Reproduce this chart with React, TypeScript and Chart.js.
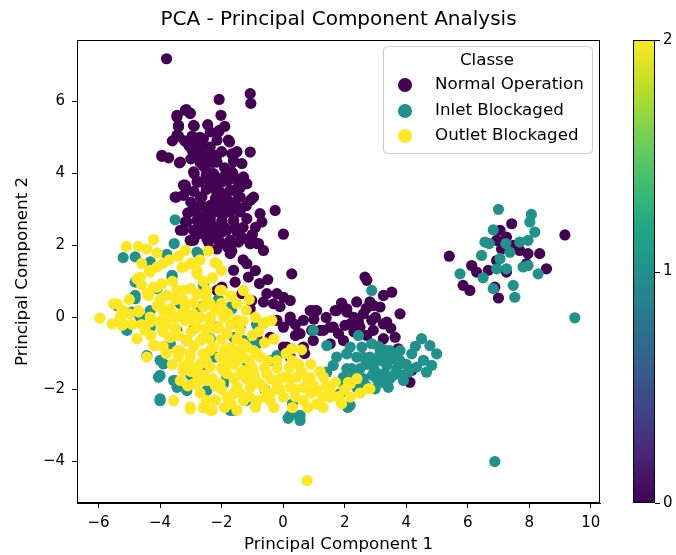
import React, { useEffect, useRef } from "react";
import { Chart, registerables } from "chart.js";

Chart.register(...registerables);

const chartTitle = "PCA - Principal Component Analysis";
const classNames = ["Normal Operation", "Inlet Blockaged", "Outlet Blockaged"];
const classColors = ["#440154", "#21918c", "#fde725"];
const xTicks = [-6, -4, -2, 0, 2, 4, 6, 8, 10];
const yTicks = [-4, -2, 0, 2, 4, 6];
const colorbarTicks = ["0", "1", "2"];

const normalPoints: number[][] = [
  [-3.79, 7.18], [-2.08, 6.05], [-1.07, 6.21], [-1.05, 5.94], [-2.02, 5.61], [-3.15, 5.77], [-3.45, 5.56], [-3.02, 5.67],
  [-3.4, 5.29], [-3.4, 5.03], [-2.89, 5.31], [-2.96, 5.03], [-2.37, 5.15], [-2.08, 5.19], [-2.59, 4.96], [-2.15, 4.92],
  [-1.74, 4.87], [-3.07, 4.78], [-2.69, 4.69], [-2.37, 4.73], [-3.94, 4.47], [-3.72, 4.43], [-2.86, 4.5], [-2.48, 4.45],
  [-2.15, 4.5], [-1.67, 4.54], [-1.07, 4.59], [-3.37, 4.29], [-1.61, 4.32], [-1.34, 4.27], [-2.37, 3.99], [-2.89, 3.99],
  [-1.94, 3.9], [-1.63, 3.99], [-1.29, 3.9], [-2.72, 3.76], [-1.18, 3.71], [-3.18, 3.67], [-2.15, 3.67], [-1.61, 3.53],
  [-3.24, 3.39], [-3.47, 3.34], [-2.64, 3.34], [-2.15, 3.43], [-1.83, 3.29], [-1.45, 3.34], [-1.02, 3.29], [-2.8, 3.06],
  [-2.37, 3.11], [-1.94, 3.16], [-1.5, 3.06], [-1.07, 3.25], [-0.26, 2.97], [-2.86, 2.93], [-2.48, 2.88], [-2.1, 2.93],
  [-1.72, 2.93], [-1.4, 2.93], [-0.75, 2.88], [-3.18, 2.65], [-2.8, 2.69], [-2.37, 2.65], [-1.99, 2.69], [-1.61, 2.69],
  [-1.18, 2.74], [-0.69, 2.65], [-3.34, 2.42], [-2.91, 2.42], [-2.43, 2.42], [-1.99, 2.37], [-1.5, 2.37], [0.01, 2.31],
  [-3.02, 2.14], [-2.48, 2.19], [-2.1, 2.14], [-1.72, 2.14], [-1.07, 2.05], [-0.85, 2.05], [-0.64, 1.86], [-2.15, 1.9],
  [-1.67, 1.84], [0.28, 1.21], [2.66, 1.12],
  [-2.6, 4.2], [-2.3, 4.3], [-1.9, 4.15], [-2.5, 3.55], [-2.0, 3.45], [-2.6, 2.6], [-1.3, 2.5], [-2.7, 5.0],
  [-1.9, 5.3], [-3.2, 4.9], [-2.0, 3.75], [-1.4, 3.6], [-2.9, 3.5],
  [-3.18, 5.75], [-3.45, 5.61], [-3.02, 5.66], [-3.4, 5.33], [-2.91, 5.33], [-3.45, 5.06], [-2.1, 5.15], [-1.78, 4.92],
  [-2.8, 4.78], [-2.96, 4.64], [-3.94, 4.5], [-3.34, 4.31], [-2.69, 4.54], [-2.26, 4.5], [-2.59, 4.31], [-2.15, 4.31],
  [-1.61, 4.36], [-2.91, 4.04], [-2.48, 4.04], [-2.26, 3.99], [-1.67, 4.04], [-1.29, 3.85], [-3.24, 3.67], [-2.8, 3.76],
  [-2.21, 3.57], [-1.72, 3.53], [-3.51, 3.34], [-3.13, 3.53], [-2.69, 3.34], [-1.4, 3.34], [-0.96, 3.34], [-2.91, 3.06],
  [-2.53, 3.06], [-2.15, 3.11], [-1.72, 3.02], [-1.4, 2.97], [-3.13, 2.65], [-2.69, 2.79], [-2.37, 2.74], [-1.99, 2.65],
  [-1.61, 2.69], [-3.24, 2.42], [-2.69, 2.42], [-2.26, 2.32], [-1.83, 2.42], [-1.45, 2.37], [-2.91, 2.14], [-2.43, 2.09],
  [-2.05, 2.09], [-1.67, 2.05], [-1.45, 2.09], [-1.07, 2.05], [-0.8, 2.05], [-1.72, 1.77],
  [-3.0, 4.4], [-2.7, 4.3], [-2.4, 3.8], [-2.1, 3.8], [-1.8, 3.8], [-1.5, 3.8], [-3.0, 3.2], [-2.7, 3.1],
  [-2.2, 3.3], [-1.6, 3.2], [-1.2, 3.1], [-3.1, 2.9], [-2.3, 2.9], [-1.9, 2.9], [-1.55, 2.5], [-1.9, 2.5],
  [-2.8, 2.3], [-2.2, 2.5], [-1.3, 2.2], [-0.9, 2.5], [-1.8, 1.95], [-2.6, 4.7], [-2.9, 4.9], [-3.6, 4.9],
  [-2.45, 5.35], [-1.5, 4.6], [-2.0, 4.6], [-2.5, 3.95], [-1.0, 2.3], [-1.3, 1.6], [-0.9, 1.3], [-0.5, 1.05],
  [-1.61, 1.31], [-1.13, 1.12], [-0.77, 0.94], [-1.56, 0.98], [-0.53, 0.66], [-0.2, 0.66], [-1.02, 0.47], [-0.64, 0.43],
  [-0.31, 0.38], [0.23, 0.01], [0.88, 0.19], [1.09, 0.19], [1.74, 0.19], [2.07, 0.24], [2.39, 0.43], [2.72, 1.03],
  [3.26, 0.61], [2.93, 0.33], [2.61, 0.1], [-0.2, -0.08], [0.01, -0.27], [0.66, -0.08], [0.55, -0.45], [0.93, -0.36],
  [1.31, -0.36], [1.63, -0.27], [2.18, -0.18], [2.5, -0.27], [2.93, -0.36], [3.26, -0.18], [-0.85, -0.55], [-0.42, -0.55],
  [0.12, -0.82], [0.66, -0.82], [0.98, -0.64], [1.53, -0.73], [1.96, -0.64], [0.23, -1.1], [-1.18, 1.49], [-1.99, 0.84],
  [-2.15, 0.75], [-0.85, -0.18], [0.01, 0.56], [0.23, 0.47], [0.98, 0.19], [1.69, 0.19], [2.07, 0.15], [2.82, 0.43],
  [3.15, 0.29], [3.53, 0.7], [3.8, 0.1], [3.37, -0.13], [2.88, -0.08], [2.45, -0.13], [2.01, -0.22], [1.53, -0.27],
  [1.2, -0.36], [0.23, -0.08], [3.64, -0.55], [3.26, -0.59], [2.72, -0.5], [3.74, -0.87], [4.18, -1.47], [4.12, -1.8],
  [0.01, -0.82], [-1.34, 0.66], [-1.07, 0.24], [1.4, 0.0], [1.9, 0.4], [2.3, 0.0], [3.0, 0.0], [3.5, -0.3],
  [-0.1, 0.3], [0.4, -0.5], [0.7, -1.0], [0.4, -0.2], [1.0, -0.05], [1.8, -0.45], [2.3, -0.4], [2.7, 0.25],
  [5.4, 1.7], [7.43, 2.6], [7.05, 2.42], [6.94, 2.14], [7.26, 2.23], [9.16, 2.29], [8.34, 1.77], [8.56, 1.35],
  [6.13, 1.44], [6.29, 1.26], [5.85, 0.89], [6.07, 0.75], [6.88, 0.84], [7.0, 0.54], [7.69, 1.86], [7.96, 1.77],
  [7.26, 1.26], [6.67, 1.31], [6.94, 1.58], [7.91, 1.49], [7.1, 1.9], [7.5, 2.0],
];

const inletPoints: number[][] = [
  [-3.51, 2.71], [-3.54, 2.05], [-2.8, 1.81], [-5.2, 1.66], [-4.81, 1.68], [-3.78, 1.75], [-4.32, 1.54], [-2.75, 1.77],
  [-4.75, 1.03], [-3.61, 1.12], [-2.59, 0.89], [-4.81, 0.61], [-5.4, 0.33], [-3.34, 0.38], [-1.67, 0.24], [-4.64, 0.01],
  [-5.13, -0.27], [-4.32, -0.27], [-1.4, -0.27], [-0.85, -0.22], [-3.67, -0.73], [-2.37, -0.59], [-4.43, -1.06], [-3.89, -1.29],
  [-4.0, -1.61], [-0.42, -1.19], [-0.2, -1.06], [-3.56, -1.75], [-1.83, -1.66], [-1.18, -1.38], [-3.45, -1.94], [-2.48, -2.03],
  [-4.0, -2.31], [-1.72, -2.58], [0.23, -2.72], [0.55, -2.72], [0.16, -2.8], [0.55, -2.86], [2.1, -2.5],
  [-2.9, -0.3], [-2.2, -1.1], [-1.0, -0.8], [-3.0, -1.6], [-2.6, -1.5], [-0.6, -2.0], [-1.2, -2.3], [0.3, -2.4],
  [-4.1, 0.8], [-2.1, 0.5],
  [-3.61, 1.17], [-4.81, 0.98], [-4.81, 0.52], [-4.91, 0.15], [-5.08, -0.36], [-4.32, 0.19], [-4.0, -1.19], [-4.05, -1.66],
  [-4.0, -2.26], [-3.51, -1.75], [-3.13, -2.03], [-3.45, -0.36], [-3.13, -0.64], [-2.69, 0.29], [-2.15, -0.27], [-1.72, 0.29],
  [-1.61, -0.55], [-1.29, -0.64], [-0.85, -0.73], [-1.94, -1.84], [-1.61, -2.58],
  [0.98, -0.36], [1.42, -1.52], [1.74, -1.1], [2.07, -1.01], [2.23, -1.42], [1.96, -1.84], [2.18, -2.44], [2.88, 0.75],
  [1.42, -0.78], [2.18, -0.82], [2.56, -0.82], [2.88, -0.73], [2.39, -1.1], [2.82, -1.1], [3.15, -1.01], [3.47, -0.92],
  [3.8, -0.92], [4.18, -1.01], [4.5, -0.59], [4.77, -0.78], [4.99, -1.01], [4.83, -1.33], [4.56, -1.19], [4.34, -1.38],
  [4.66, -1.52], [2.07, -1.42], [2.5, -1.42], [2.93, -1.38], [3.37, -1.33], [3.69, -1.42], [4.07, -1.52], [2.61, -1.7],
  [3.04, -1.7], [3.47, -1.7], [3.91, -1.75], [2.39, -1.94], [2.99, -1.98], [3.42, -1.94], [1.96, -1.66], [1.85, -2.12],
  [1.63, -1.33], [2.45, -0.5], [3.2, -1.2], [3.6, -1.15], [3.0, -1.5], [3.3, -1.55], [2.7, -1.3],
  [3.0, -1.2], [3.4, -1.1], [3.8, -1.2], [3.2, -1.8], [3.6, -1.6], [2.9, -1.6], [3.7, -1.0], [4.0, -1.3],
  [2.6, -1.1], [2.3, -1.6], [3.1, -0.8], [3.9, -1.6], [4.3, -0.8], [2.7, -1.9], [3.3, -0.9],
  [7.0, 3.0], [8.07, 2.86], [8.02, 2.65], [8.18, 2.37], [6.83, 2.43], [6.56, 2.09], [6.7, 2.05], [7.24, 2.05],
  [7.69, 2.09], [7.96, 2.14], [6.45, 1.72], [7.37, 1.81], [7.05, 1.63], [6.94, 1.35], [7.26, 1.35], [7.8, 1.4],
  [7.96, 1.44], [6.5, 1.1], [5.75, 1.21], [6.83, 0.8], [7.48, 0.89], [7.53, 0.56], [8.29, 1.21], [9.48, -0.01],
  [6.88, -4.0],
];

const outletPoints: number[][] = [
  [-5.1, 1.97], [-4.7, 1.97], [-4.21, 2.16], [-3.18, 1.86], [-2.43, 1.84], [-4.43, 1.9], [-4.1, 1.79], [-2.21, 1.52],
  [-3.29, 1.38], [-2.8, 1.31], [-4.34, 1.31],
  [-5.96, -0.02], [-5.51, 0.38], [-5.24, 0.19], [-5.56, -0.18], [-5.19, -0.18], [-4.75, -0.59], [-4.7, 0.19], [-4.75, 1.07],
  [-4.32, 1.26], [-4.43, 0.66], [-4.21, 0.84], [-3.94, 0.94], [-4.1, 0.33], [-4.32, 0.01], [-4.48, -0.36], [-4.21, -0.78],
  [-4.43, -1.1], [-3.78, 0.61], [-3.67, 0.24], [-3.78, -0.18], [-3.67, -0.55], [-3.45, -0.92], [-3.24, 1.4], [-2.8, 1.26],
  [-3.24, 0.75], [-2.8, 0.66], [-3.18, 0.38], [-2.91, 0.1], [-3.18, -0.08], [-2.8, -0.27], [-2.37, 0.38], [-2.37, 0.01],
  [-2.48, 0.75], [-1.99, 0.75], [-2.15, 1.49], [-1.94, 0.19], [-2.1, -0.27], [-1.83, -0.45], [-1.5, -0.08], [-1.29, 0.75],
  [-0.58, -0.13], [-0.37, -0.08], [0.28, -0.87], [-3.13, -0.64], [-2.69, -0.64], [-2.26, -0.82], [-1.72, -0.82], [-1.29, -0.73],
  [-0.96, -0.92], [-0.75, -1.1], [-3.02, -1.01], [-2.59, -1.01], [-2.05, -1.1], [-1.5, -1.19], [-3.24, -1.38], [-2.8, -1.38],
  [-2.37, -1.38], [-1.94, -1.47], [-1.4, -1.56], [-0.96, -1.56], [-0.53, -1.56], [0.01, -1.66], [0.44, -1.66], [0.88, -1.66],
  [1.31, -1.66], [-3.34, -1.75], [-2.91, -1.84], [-2.48, -1.75], [-2.05, -1.84], [-1.5, -1.94], [-1.07, -1.94], [-0.64, -1.94],
  [-0.2, -1.94], [0.23, -1.94], [0.66, -1.94], [1.09, -2.03], [1.53, -2.03], [2.18, -1.84], [2.82, -1.98], [-3.56, -2.31],
  [-3.02, -2.54], [-2.37, -2.58], [-1.83, -2.21], [-1.29, -2.31], [-0.85, -2.31], [-0.42, -2.31], [0.01, -2.21], [0.66, -2.31],
  [1.09, -2.4], [1.53, -2.21], [2.18, -2.21], [-1.5, -2.58], [2.12, -1.8], [2.77, -1.98], [0.78, -4.53],
  [-3.5, 0.0], [-3.0, -0.4], [-2.5, -0.3], [-2.0, -0.6], [-1.6, -1.0], [-1.1, -1.2], [-0.6, -0.7], [-0.2, -1.4],
  [0.5, -1.3], [1.0, -1.9], [-3.9, -0.4], [-4.0, 0.5], [-5.0, 0.1], [-1.2, -1.7], [-0.3, -2.5], [0.3, -2.5],
  [-2.2, -2.3], [-2.7, -2.1],
  [-5.4, 0.38], [-5.19, 0.19], [-5.24, -0.22], [-4.7, 0.15], [-4.64, 1.12], [-4.37, 0.61], [-4.1, 0.84], [-4.0, 0.43],
  [-4.32, -0.13], [-3.94, -0.31], [-4.16, -0.78], [-3.67, -0.55], [-3.78, 0.1], [-3.45, 0.75], [-3.24, 0.47], [-3.02, -0.08],
  [-3.34, -0.92], [-3.02, -1.1], [-3.24, -1.47], [-2.8, 1.21], [-2.8, 0.66], [-2.59, 0.29], [-2.37, -0.08], [-2.59, -0.55],
  [-2.37, -0.92], [-2.69, -1.29], [-2.8, -1.84], [-3.02, -2.49], [-2.31, -2.58], [-2.05, 0.75], [-1.94, 0.01], [-1.83, -0.45],
  [-1.72, -1.1], [-1.83, -1.56], [-1.61, -2.12], [-1.29, -1.47], [-1.18, -0.82], [-1.4, -0.36], [-1.5, 0.38], [-0.85, -1.01],
  [-0.75, -1.84], [-0.64, -0.18],
  [0.2, -1.4], [0.6, -1.5], [1.2, -1.5], [1.7, -1.8], [2.4, -1.7], [1.9, -2.4], [1.3, -2.5], [0.9, -2.1],
  [0.4, -2.0], [-0.1, -1.7], [-0.4, -2.1], [-0.9, -2.5], [-1.7, -2.4], [-2.0, -2.0], [-2.5, -2.3], [-2.6, -1.6],
  [-3.0, -1.5], [-3.1, -1.9], [-3.6, -1.3], [-3.8, -1.0], [-3.5, -0.3], [-3.3, 0.1], [-2.9, 0.4], [-2.6, 1.0],
  [-3.6, 1.0], [-3.9, 1.5], [-4.6, 1.5], [-3.7, 1.6], [-2.3, 1.1], [-2.0, 1.3], [-1.7, 0.6], [-1.2, 0.2],
  [-0.9, 0.0], [-1.0, -0.5], [-0.3, -0.6], [0.1, -1.0], [0.6, -0.9], [-1.5, -0.6], [-2.0, -1.4], [-2.5, -1.2],
  [-1.6, -1.3], [-0.5, -1.2], [0.9, -1.3],
  [-4.6, -0.2], [-4.0, -0.1], [-3.4, -0.5], [-3.9, 0.2], [-3.2, 0.2], [-2.7, 0.0], [-2.2, 0.2], [-1.7, -0.2],
  [-2.9, -0.8], [-2.4, -0.6], [-1.9, -0.9], [-3.1, -1.3], [-2.3, -1.7], [-1.8, -1.3], [-1.4, -0.9], [-1.0, -1.4],
  [-0.6, -1.4], [-0.2, -1.2], [0.3, -1.2], [-0.1, -2.0], [-0.6, -2.2], [-1.1, -2.2], [-1.4, -2.1], [-1.9, -2.5],
  [-2.6, -2.5], [0.4, -2.2], [0.8, -2.5], [1.3, -2.2], [1.8, -2.2], [1.4, -1.9], [0.8, -1.7], [0.2, -1.7],
  [-0.4, -1.7], [-0.9, -1.7], [-1.6, -1.7], [-2.2, -1.9], [-2.8, -1.6], [-3.4, -1.1], [-3.9, -0.8], [-4.3, -0.5],
  [-3.5, 0.5], [-3.0, 0.8], [-2.5, 0.5], [-2.0, 0.4], [-1.8, 0.1], [-1.3, -0.1], [-2.3, -0.3], [-2.7, 1.6],
  [-3.4, 1.7], [-3.0, 1.5], [-4.1, 1.4], [-4.6, 0.9], [-5.0, 0.5], [-5.3, 0.0], [-4.9, -0.2], [-1.1, 0.5],
  [-0.8, -0.4], [-1.3, -1.1], [2.0, -2.0], [2.5, -2.1],
];

const viridisStops = ["#440154", "#482475", "#414487", "#355f8d", "#2a788e", "#21918c", "#22a884", "#44bf70", "#7ad151", "#bddf26", "#fde725"];

const FONT = "'DejaVu Sans', sans-serif";

const fmt = (v: number) => (v < 0 ? "\u2212" + Math.abs(v) : String(v));

const decorPlugin = {
  id: "decor",
  afterDraw(chart: any) {
    const { ctx, chartArea } = chart;
    const { left, right, top, bottom } = chartArea;
    ctx.save();
    ctx.strokeStyle = "#000";
    ctx.lineWidth = 1;
    ctx.strokeRect(left + 0.5, top + 0.5, right - left - 1, bottom - top - 1);

    ctx.fillStyle = "#000";
    ctx.font = "20px " + FONT;
    ctx.textAlign = "center";
    ctx.textBaseline = "middle";
    ctx.fillText(chartTitle, (left + right) / 2, 20);

    const lx = 383, ly = 46, lw = 209, lh = 107;
    ctx.beginPath();
    (ctx as any).roundRect(lx + 0.5, ly + 0.5, lw, lh, 4);
    ctx.fillStyle = "rgba(255,255,255,0.8)";
    ctx.fill();
    ctx.strokeStyle = "#cccccc";
    ctx.stroke();
    ctx.fillStyle = "#000";
    ctx.font = "16.7px " + FONT;
    ctx.textBaseline = "middle";
    ctx.textAlign = "center";
    ctx.fillText("Classe", 487, 61);
    ctx.textAlign = "left";
    const rows = [85, 111, 136];
    classNames.forEach((name, i) => {
      ctx.beginPath();
      ctx.arc(405, rows[i], 7, 0, Math.PI * 2);
      ctx.fillStyle = classColors[i];
      ctx.fill();
      ctx.fillStyle = "#000";
      ctx.fillText(name, 435, rows[i]);
    });

    const cx = 633, cw = 22, cy = top, ch = bottom - top;
    const grad = ctx.createLinearGradient(0, cy + ch, 0, cy);
    viridisStops.forEach((c, i) => grad.addColorStop(i / (viridisStops.length - 1), c));
    ctx.fillStyle = grad;
    ctx.fillRect(cx, cy, cw, ch);
    ctx.strokeStyle = "#000";
    ctx.strokeRect(cx + 0.5, cy + 0.5, cw - 1, ch - 1);
    ctx.font = "15px " + FONT;
    ctx.fillStyle = "#000";
    ctx.textAlign = "left";
    colorbarTicks.forEach((t, i) => {
      const y = cy + ch - (i / (colorbarTicks.length - 1)) * ch;
      ctx.beginPath();
      ctx.moveTo(cx + cw, Math.round(y) + 0.5);
      ctx.lineTo(cx + cw + 5, Math.round(y) + 0.5);
      ctx.stroke();
      ctx.fillText(t, cx + cw + 8, y);
    });
    ctx.restore();
  },
};

export default function App() {
  const ref = useRef<HTMLCanvasElement | null>(null);
  useEffect(() => {
    document.body.style.margin = "0";
    const toData = (pts: number[][]) => pts.map(([x, y]) => ({ x, y }));
    const sets = [normalPoints, inletPoints, outletPoints];
    const chart = new Chart(ref.current as HTMLCanvasElement, {
      type: "scatter",
      data: {
        datasets: sets.map((pts, i) => ({
          label: classNames[i],
          data: toData(pts),
          backgroundColor: classColors[i],
          borderWidth: 0,
          pointRadius: 5.6,
          pointHoverRadius: 5.6,
          order: 2 - i,
        })),
      },
      options: {
        animation: false,
        responsive: true,
        maintainAspectRatio: false,
        events: [],
        layout: { padding: { left: 0, right: 76, top: 40, bottom: 0 } },
        plugins: {
          legend: { display: false },
          tooltip: { enabled: false },
          title: { display: false },
        },
        scales: {
          x: {
            type: "linear",
            min: -6.7,
            max: 10.3,
            afterBuildTicks: (s: any) => { s.ticks = xTicks.map((v) => ({ value: v })); },
            afterFit: (s: any) => { s.height = 52; },
            ticks: { callback: (v: any) => fmt(Number(v)), color: "#000", font: { family: FONT, size: 15 }, padding: 6, maxRotation: 0 },
            grid: { drawOnChartArea: false, drawTicks: true, tickLength: 5, color: "#000" },
            border: { display: true, color: "#000" },
            title: { display: true, text: "Principal Component 1", color: "#000", font: { family: FONT, size: 16.7 }, padding: { top: 2, bottom: 0 } },
          },
          y: {
            type: "linear",
            min: -5.15,
            max: 7.7,
            afterBuildTicks: (s: any) => { s.ticks = yTicks.map((v) => ({ value: v })); },
            afterFit: (s: any) => { s.width = 77; },
            ticks: { callback: (v: any) => fmt(Number(v)), color: "#000", font: { family: FONT, size: 15 }, padding: 7 },
            grid: { drawOnChartArea: false, drawTicks: true, tickLength: 5, color: "#000" },
            border: { display: true, color: "#000" },
            title: { display: true, text: "Principal Component 2", color: "#000", font: { family: FONT, size: 16.7 }, padding: { top: 12.5, bottom: 0 } },
          },
        },
      },
      plugins: [decorPlugin],
    } as any);
    return () => chart.destroy();
  }, []);
  return (
    <div style={{ width: 676, height: 555, position: "relative" }}>
      <canvas ref={ref} />
    </div>
  );
}
